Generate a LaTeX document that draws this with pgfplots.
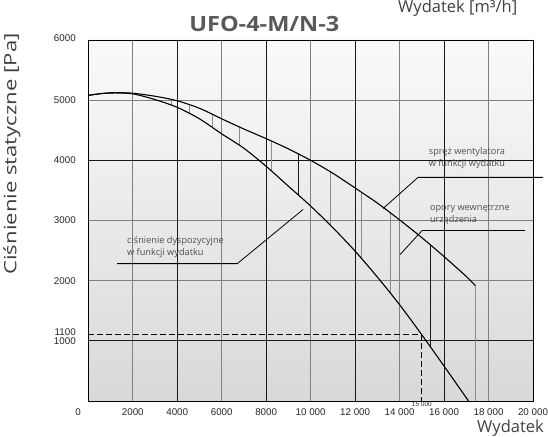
\documentclass[border=0pt]{standalone}
\usepackage{pgfplots}
\pgfplotsset{compat=1.18}
\usepackage{fontspec}
\setmainfont{Open Sans}
\newfontfamily\arialf{Liberation Sans}
\definecolor{titlegray}{HTML}{595959}
\definecolor{labgray}{HTML}{404040}
\definecolor{anngray}{HTML}{505050}
\begin{document}
\begin{tikzpicture}[x=1bp,y=1bp]
\begin{axis}[
  at={(0,0)}, anchor=south west,
  scale only axis, width=444.7bp, height=361bp,
  xmin=0, xmax=20000, ymin=0, ymax=6000,
  scaled ticks=false,
  clip=false,
  axis line style={black, line width=0.8bp},
  axis background/.style={top color=black!2, bottom color=black!15},
  major tick length=0pt,
  xtick={0,2000,4000,6000,8000,10000,12000,14000,16000,18000,20000},
  xticklabels={\makebox[0pt][r]{0\hspace{7.5bp}},2000,4000,6000,8000,10 000,12 000,14 000,16 000,18 000,20 000},
  ytick={1000,2000,3000,4000,5000,6000},
  yticklabels={1000,2000,3000,4000,5000,\raisebox{4bp}{6000}},
  extra y ticks={1100},
  extra y tick labels={\raisebox{6bp}{1100}},
  extra y tick style={grid=none},
  xmajorgrids, ymajorgrids,
  major grid style={line width=0.9bp, black!50},
  tick label style={font=\arialf\fontsize{9.8bp}{11bp}\selectfont, text=black!85},
  xticklabel style={yshift=-4.5bp},
  yticklabel style={xshift=-9bp},
]
% darker grid lines
\addplot[black!90, line width=0.9bp, unbounded coords=jump] coordinates {
 (4000,0) (4000,6000) (4000,nan)
 (8000,0) (8000,6000) (8000,nan)
 (12000,0) (12000,6000) (12000,nan)
 (16000,0) (16000,6000) (16000,nan)
 (0,4000) (20000,4000) (20000,nan)
 (0,1000) (20000,1000)
};
% hatch lines (gray)
\addplot[black!45, line width=1bp, unbounded coords=jump] coordinates {
 (3760,5010) (3760,4915) (3760,nan)
 (4550,4930) (4550,4780) (4550,nan)
 (5600,4760) (5600,4535) (5600,nan)
 (6800,4555) (6800,4250) (6800,nan)
 (8250,4320) (8250,3825) (8250,nan)
 (10880,3810) (10880,2925) (10880,nan)
 (12300,3470) (12300,2360) (12300,nan)
 (13570,3130) (13570,1800) (13570,nan)
 (17400,1920) (17400,0)
};
% hatch lines (dark)
\addplot[black!90, line width=0.9bp, unbounded coords=jump] coordinates {
 (9450,4105) (9450,3420) (9450,nan)
 (15370,2600) (15370,910)
};
% upper curve: spręż wentylatora
\addplot[black, line width=1.1bp, smooth] coordinates {
 (0,5080) (600,5110) (1200,5125) (2000,5115) (3000,5065) (4000,4990)
 (5000,4865) (6000,4690) (7000,4520) (8000,4360) (9000,4190) (10000,4000)
 (11000,3785) (12000,3540) (13000,3290) (14000,3010) (15000,2715)
 (16000,2400) (17000,2070) (17400,1920)
};
% lower curve: ciśnienie dyspozycyjne
\addplot[black, line width=1.1bp, smooth] coordinates {
 (0,5080) (600,5110) (1200,5120) (2000,5105) (3000,5010) (4000,4880)
 (5000,4690) (6000,4440) (7000,4200) (8000,3900) (9000,3570) (10000,3240)
 (11000,2880) (12000,2490) (13000,2060) (14000,1600) (15000,1100)
 (16000,580) (17100,0)
};
% dashed working point
\addplot[black, line width=0.9bp, dash pattern=on 6bp off 3bp] coordinates {(0,1100) (15000,1100) (15000,0)};
% leader lines
\addplot[black, line width=0.8bp] coordinates {(13260,3200) (14830,3717) (20450,3717)};
\addplot[black, line width=0.8bp] coordinates {(14020,2433) (15010,2833) (19640,2833)};
\addplot[black, line width=0.8bp] coordinates {(1300,2283) (6700,2283) (9660,3183)};
% annotation texts
\node[font=\fontsize{9.2bp}{11.5bp}\selectfont, text=anngray, align=center, inner sep=0pt] at (axis cs:17030,4040) {spręż wentylatora\\w funkcji wydatku};
\node[font=\fontsize{9.2bp}{11.5bp}\selectfont, text=anngray, align=left, anchor=west, inner sep=0pt] at (axis cs:15360,3100) {opory wewnętrzne\\urządzenia};
\node[font=\fontsize{9.2bp}{11.5bp}\selectfont, text=anngray, align=left, anchor=west, inner sep=0pt] at (axis cs:1740,2558) {ciśnienie dyspozycyjne\\w funkcji wydatku};
\node[font=\arialf\fontsize{6.5bp}{7bp}\selectfont, text=black!85, anchor=north, inner sep=0pt] at (axis cs:15000,-20) {15 000};
\end{axis}
\node[anchor=base, font=\bfseries\fontsize{21bp}{24bp}\selectfont, text=titlegray] at (176,369) {\scalebox{1.12}[1]{UFO-4-M/N-3}};
\node[anchor=base west, font=\fontsize{16.5bp}{19bp}\selectfont, text=labgray, inner sep=0pt] at (309.7,388) {Wydatek [m³/h]};
\node[anchor=base west, font=\fontsize{16.5bp}{19bp}\selectfont, text=labgray, inner sep=0pt] at (388.7,-32) {Wydatek};
\node[rotate=90, font=\fontsize{17bp}{19bp}\selectfont, text=labgray] at (-76.3,247) {\scalebox{1.3}[1]{Ciśnienie statyczne [Pa]}};
\pgfresetboundingbox
\useasboundingbox (-88.3,-36) rectangle (459.7,401);
\end{tikzpicture}
\end{document}
